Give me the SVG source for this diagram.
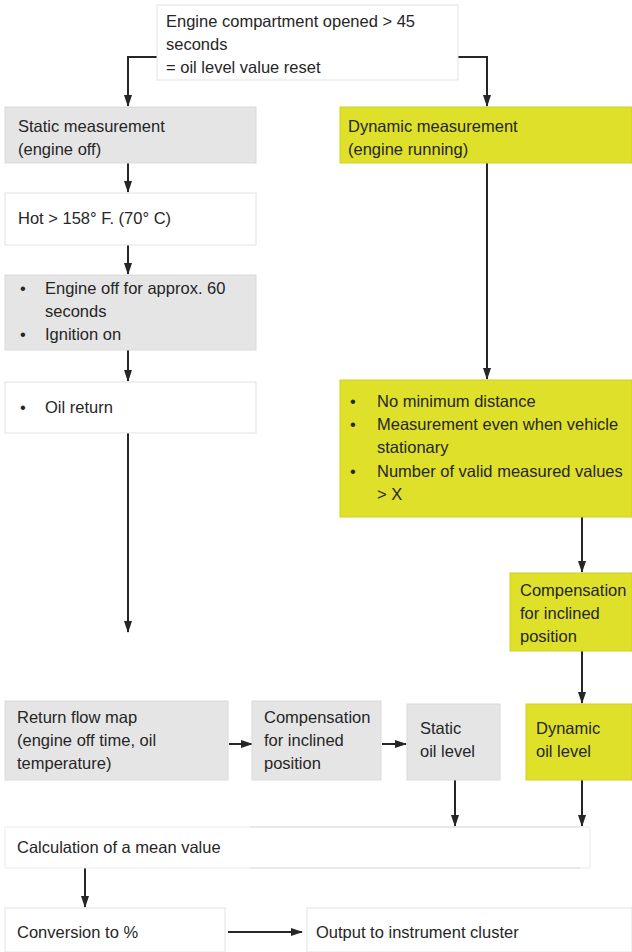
<svg xmlns="http://www.w3.org/2000/svg" width="632" height="952" viewBox="0 0 632 952">
<defs>
<style>
text{font-family:"Liberation Sans",Arial,sans-serif;font-size:16.5px;fill:#262626}
.g{fill:#e5e5e5;stroke:#dadada;stroke-width:1}
.w{fill:#ffffff;stroke:#e2e2e2;stroke-width:1}
.y{fill:#dfe02a;stroke:#d0d020;stroke-width:1}
.c{fill:none;stroke:#262626;stroke-width:2}
</style>
<marker id="ah" markerWidth="12" markerHeight="10" refX="11" refY="5" orient="auto" markerUnits="userSpaceOnUse">
<path d="M0,1 L12,5 L0,9 Z" fill="#262626"/>
</marker>
</defs>
<rect width="632" height="952" fill="#ffffff"/>

<g id="connectors">
<path class="c" d="M157,57 H128 V106" marker-end="url(#ah)"/>
<path class="c" d="M458,57 H487 V106" marker-end="url(#ah)"/>
<path class="c" d="M128,163 V192" marker-end="url(#ah)"/>
<path class="c" d="M128,245 V274" marker-end="url(#ah)"/>
<path class="c" d="M128,350 V381" marker-end="url(#ah)"/>
<path class="c" d="M128,433 V632" marker-end="url(#ah)"/>
<path class="c" d="M487,163 V379" marker-end="url(#ah)"/>
<path class="c" d="M582,517 V572" marker-end="url(#ah)"/>
<path class="c" d="M582,651 V703" marker-end="url(#ah)"/>
<path class="c" d="M229,744 H252" marker-end="url(#ah)"/>
<path class="c" d="M382,744 H406" marker-end="url(#ah)"/>
<path class="c" d="M455,780 V826" marker-end="url(#ah)"/>
<path class="c" d="M582,780 V826" marker-end="url(#ah)"/>
<path class="c" d="M85,868 V907" marker-end="url(#ah)"/>
<path class="c" d="M228,932 H302" marker-end="url(#ah)"/>
</g>

<g id="n-top">
<rect class="w" x="157" y="5" width="301" height="75"/>
<text x="166" y="27">Engine compartment opened &gt; 45</text>
<text x="166" y="50">seconds</text>
<text x="166" y="73">= oil level value reset</text>
</g>

<g id="n-static">
<rect class="g" x="5" y="107" width="251" height="56"/>
<text x="18" y="132">Static measurement</text>
<text x="18" y="155">(engine off)</text>
</g>

<g id="n-dynamic">
<rect class="y" x="340" y="107" width="292" height="56"/>
<text x="348" y="132">Dynamic measurement</text>
<text x="348" y="155">(engine running)</text>
</g>

<g id="n-hot">
<rect class="w" x="5" y="193" width="251" height="52"/>
<text x="18" y="224">Hot &gt; 158° F. (70° C)</text>
</g>

<g id="n-engineoff">
<rect class="g" x="5" y="275" width="251" height="75"/>
<text x="20" y="294">•</text>
<text x="45" y="294">Engine off for approx. 60</text>
<text x="45" y="317">seconds</text>
<text x="20" y="340">•</text>
<text x="45" y="340">Ignition on</text>
</g>

<g id="n-oilreturn">
<rect class="w" x="5" y="382" width="251" height="51"/>
<text x="20" y="413">•</text>
<text x="45" y="413">Oil return</text>
</g>

<g id="n-conditions">
<rect class="y" x="340" y="380" width="292" height="137"/>
<text x="350" y="407">•</text>
<text x="377" y="407">No minimum distance</text>
<text x="350" y="430">•</text>
<text x="377" y="430">Measurement even when vehicle</text>
<text x="377" y="453">stationary</text>
<text x="350" y="477">•</text>
<text x="377" y="477">Number of valid measured values</text>
<text x="377" y="500">&gt; X</text>
</g>

<g id="n-comp-dyn">
<rect class="y" x="510" y="573" width="122" height="78"/>
<text x="520" y="596">Compensation</text>
<text x="520" y="619">for inclined</text>
<text x="520" y="642">position</text>
</g>

<g id="n-returnflow">
<rect class="g" x="5" y="701" width="223" height="79"/>
<text x="17" y="723">Return flow map</text>
<text x="17" y="746">(engine off time, oil</text>
<text x="17" y="769">temperature)</text>
</g>

<g id="n-comp-static">
<rect class="g" x="252" y="701" width="129" height="79"/>
<text x="264" y="723">Compensation</text>
<text x="264" y="746">for inclined</text>
<text x="264" y="769">position</text>
</g>

<g id="n-staticlevel">
<rect class="g" x="407" y="704" width="93" height="76"/>
<text x="420" y="734">Static</text>
<text x="420" y="757">oil level</text>
</g>

<g id="n-dynamiclevel">
<rect class="y" x="526" y="704" width="106" height="76"/>
<text x="536" y="734">Dynamic</text>
<text x="536" y="757">oil level</text>
</g>

<g id="n-mean">
<rect x="5" y="827" width="585" height="41" fill="#ffffff" stroke="#ebebeb" stroke-width="1"/>
<path d="M250,827 H580 M250,868 H580" stroke="#dcdcdc" stroke-width="1" fill="none"/>
<text x="17" y="853">Calculation of a mean value</text>
</g>

<g id="n-conversion">
<rect class="w" x="5" y="908" width="220" height="44"/>
<text x="17" y="938">Conversion to %</text>
</g>

<g id="n-output">
<rect class="w" x="307" y="908" width="325" height="44"/>
<text x="316" y="938">Output to instrument cluster</text>
</g>
</svg>
